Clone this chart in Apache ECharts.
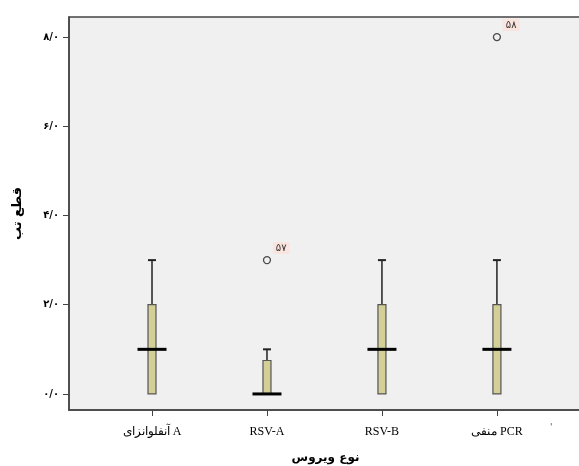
<!DOCTYPE html>
<html>
<head>
<meta charset="utf-8">
<script src="https://cdn.jsdelivr.net/npm/echarts@6/dist/echarts.min.js"></script>
<style>
  html, body { margin: 0; padding: 0; background: #fff; }
  #main { width: 579px; height: 466px; }
</style>
</head>
<body>
<div id="main"></div>
<script>
// داده‌ها
var categories = ['آنفلوانزای A', 'RSV-A', 'RSV-B', 'منفی PCR'];
var whiskerLow = [0, 0, 0, 0];
var q1 = [0, 0, 0, 0];
var median = [1, 0, 1, 1];
var q3 = [2, 0.75, 2, 2];
var whiskerHigh = [3, 1, 3, 3];
// [category position, value, case label]
var outliers = [[2, 3, '۵۷'], [4, 8, '۵۸']];
var yTicks = [0, 2, 4, 6, 8];
var yTickLabels = ['۰/۰', '۲/۰', '۴/۰', '۶/۰', '۸/۰'];
var xPositions = [1, 2, 3, 4];

var myChart = echarts.init(document.getElementById('main'));

var boxData = categories.map(function (c, i) {
    return [xPositions[i], whiskerLow[i], q1[i], median[i], q3[i], whiskerHigh[i]];
});

function renderBox(params, api) {
    var x = api.value(0);
    var pLow = api.coord([x, api.value(1)]);
    var pQ1 = api.coord([x, api.value(2)]);
    var pMed = api.coord([x, api.value(3)]);
    var pQ3 = api.coord([x, api.value(4)]);
    var pHigh = api.coord([x, api.value(5)]);
    var cx = pLow[0];
    var bw = 8, mw = 29, cw = 8;
    var children = [];
    // whisker
    if (pHigh[1] < pQ3[1]) {
        children.push({ type: 'line', shape: { x1: cx, y1: pQ3[1], x2: cx, y2: pHigh[1] },
            style: { stroke: '#222', lineWidth: 1.5 } });
        children.push({ type: 'line', shape: { x1: cx - cw / 2, y1: pHigh[1], x2: cx + cw / 2, y2: pHigh[1] },
            style: { stroke: '#222', lineWidth: 2 } });
    }
    // box
    if (pQ1[1] > pQ3[1]) {
        children.push({ type: 'rect', shape: { x: cx - bw / 2, y: pQ3[1], width: bw, height: pQ1[1] - pQ3[1] },
            style: { fill: '#d3cf97', stroke: '#555', lineWidth: 1.2 } });
    }
    // median
    children.push({ type: 'line', shape: { x1: cx - mw / 2, y1: pMed[1], x2: cx + mw / 2, y2: pMed[1] },
        style: { stroke: '#000', lineWidth: 3 } });
    return { type: 'group', children: children };
}

var option = {
    animation: false,
    grid: {
        left: 69, top: 17, right: -3, bottom: 56,
        containLabel: false,
        outerBoundsMode: 'none',
        show: true,
        backgroundColor: '#f0f0f0',
        borderColor: '#444',
        borderWidth: 1.5
    },
    graphic: [
        { type: 'text', left: 550, top: 423, style: { text: "'", fontSize: 9, fill: '#555', fontFamily: 'DejaVu Sans' } }
    ],
    xAxis: {
        type: 'value',
        min: 0.278,
        max: 4.74,
        name: 'نوع ویروس',
        nameLocation: 'middle',
        nameGap: 42,
        nameTextStyle: { fontFamily: 'DejaVu Sans', fontWeight: 'bold', fontSize: 12, color: '#000' },
        splitLine: { show: false },
        axisLine: { show: true, onZero: false, lineStyle: { color: '#444', width: 1.5 } },
        axisTick: { show: true, customValues: xPositions, length: 6, lineStyle: { color: '#444' } },
        axisLabel: {
            customValues: xPositions,
            margin: 16,
            fontFamily: 'Liberation Serif',
            fontSize: 12,
            color: '#000',
            formatter: function (v) { return categories[Math.round(v) - 1]; }
        }
    },
    yAxis: {
        type: 'value',
        min: -0.36,
        max: 8.45,
        name: 'قطع تب',
        nameLocation: 'middle',
        nameGap: 45,
        nameTextStyle: { fontFamily: 'DejaVu Sans', fontWeight: 'bold', fontSize: 13, color: '#000' },
        splitLine: { show: false },
        axisLine: { show: true, lineStyle: { color: '#444', width: 1.5 } },
        axisTick: { show: true, customValues: yTicks, length: 6, lineStyle: { color: '#444' } },
        axisLabel: {
            customValues: yTicks,
            margin: 10,
            fontFamily: 'DejaVu Sans',
            fontSize: 10,
            fontWeight: 'bold',
            color: '#000',
            formatter: function (v) { return yTickLabels[yTicks.indexOf(Math.round(v))]; }
        }
    },
    series: [
        {
            type: 'custom',
            renderItem: renderBox,
            data: boxData,
            encode: { x: 0, y: [1, 2, 3, 4, 5] }
        },
        {
            type: 'scatter',
            data: outliers,
            symbol: 'circle',
            symbolSize: 7,
            itemStyle: { color: 'rgba(0,0,0,0)', borderColor: '#222', borderWidth: 1.3 },
            label: {
                show: true,
                position: [10, -14],
                formatter: function (p) { return p.data[2]; },
                fontFamily: 'DejaVu Sans',
                fontSize: 10,
                color: '#000',
                backgroundColor: '#fbe1da',
                padding: [1, 3]
            }
        }
    ]
};

myChart.setOption(option);
</script>
</body>
</html>
